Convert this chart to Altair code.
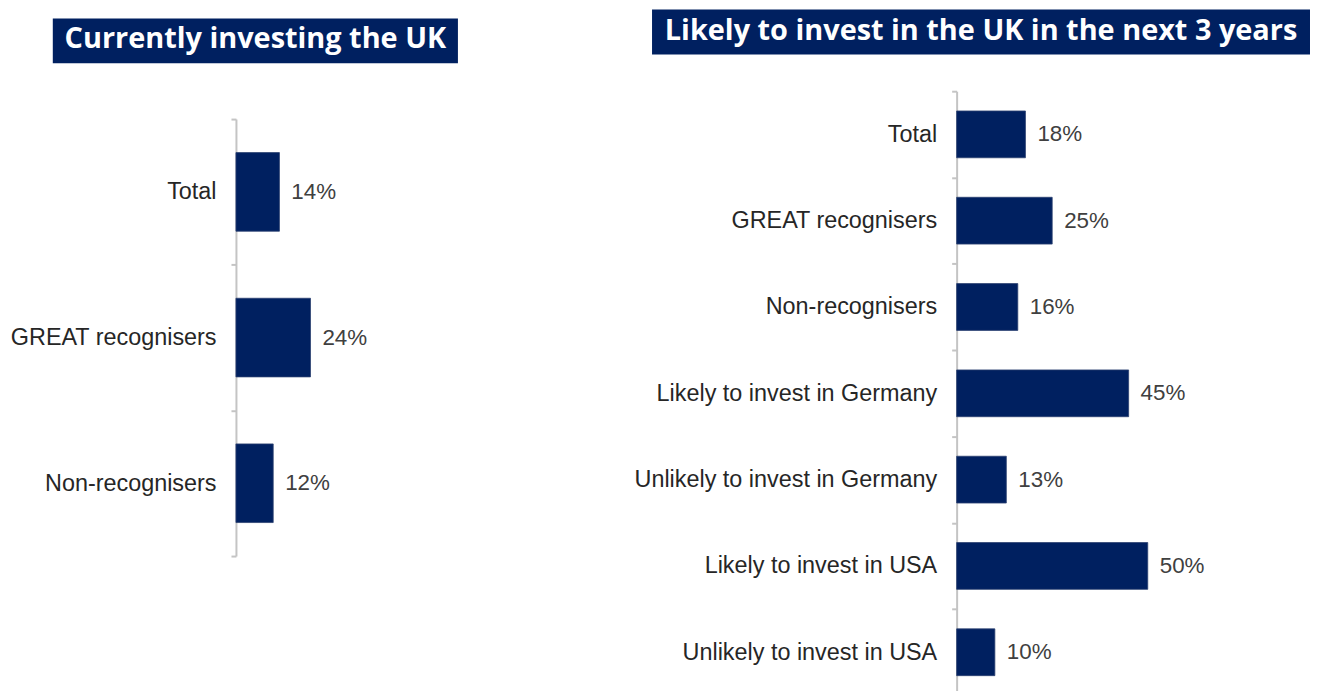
import altair as alt
import pandas as pd

left_title = "Currently investing the UK"
left_categories = ["Total", "GREAT recognisers", "Non-recognisers"]
left_values = [14, 24, 12]

right_title = "Likely to invest in the UK in the next 3 years"
right_categories = [
    "Total",
    "GREAT recognisers",
    "Non-recognisers",
    "Likely to invest in Germany",
    "Unlikely to invest in Germany",
    "Likely to invest in USA",
    "Unlikely to invest in USA",
]
right_values = [18, 25, 16, 45, 13, 50, 10]

NAVY = "#002060"
AXIS_GREY = "#c4c4c4"
LABEL_FONT = "Liberation Sans"
TITLE_FONT = "Open Sans"


def panel(cats, vals, width, height, xmax, barsize, title, box, title_size,
          title_baseline, yrange=None, anchor=False):
    df = pd.DataFrame({"cat": cats, "val": vals})
    df["label"] = df["val"].astype(str) + "%"

    scale_kw = dict(paddingInner=0, paddingOuter=0)
    if yrange is not None:
        scale_kw["range"] = yrange
    y = alt.Y(
        "cat:N",
        sort=cats,
        scale=alt.Scale(**scale_kw),
        axis=alt.Axis(
            title=None,
            domainColor=AXIS_GREY,
            domainWidth=2,
            tickColor=AXIS_GREY,
            tickWidth=2,
            tickSize=5,
            tickBand="extent",
            labelPadding=15,
            labelFont=LABEL_FONT,
            labelFontSize=23.5,
            labelColor="#262626",
            labelLimit=500,
            grid=False,
        ),
    )
    x = alt.X("val:Q", scale=alt.Scale(domain=[0, xmax], nice=False), axis=None)

    base = alt.Chart(df)
    bars = base.mark_bar(size=barsize, color=NAVY, stroke="#2b4070",
                         strokeWidth=0.8).encode(x=x, y=y)
    labels = base.mark_text(align="left", baseline="middle", dx=12,
                            font=LABEL_FONT, fontSize=22.5,
                            color="#404040").encode(x=x, y=y, text="label:N")

    one = alt.Data(values=[{"a": 1}])
    rect = alt.Chart(one).mark_rect(color=NAVY).encode(
        x=alt.value(box[0]), x2=alt.value(box[1]),
        y=alt.value(box[2]), y2=alt.value(box[3]))
    txt = alt.Chart(one).mark_text(
        text=title, font=TITLE_FONT, fontWeight="bold", fontSize=title_size,
        color="white", align="center", baseline="alphabetic").encode(
        x=alt.value((box[0] + box[1]) / 2), y=alt.value(title_baseline))
    layers = [rect, txt, bars, labels]
    if anchor:
        anc = alt.Chart(one).mark_rect(opacity=0).encode(
            x=alt.value(-229), x2=alt.value(0), y=alt.value(-82), y2=alt.value(0))
        layers.insert(0, anc)
    return alt.layer(*layers).properties(width=width, height=height)


left = panel(left_categories, left_values, 300, 467, 300 / 3.12, 79,
             left_title, (-184, 223, -73, -28), 29, -43,
             yrange=[28, 467], anchor=True)
right = panel(right_categories, right_values, 340, 607, 340 / 3.84, 47,
              right_title, (-306, 355, -82, -37), 29, -51)

chart = alt.hconcat(left, right, spacing=424, bounds="flush").properties(
    padding=0, background="white"
).configure_view(stroke=None)

chart.save("out.html", embed_options={"renderer": "svg", "actions": False})
